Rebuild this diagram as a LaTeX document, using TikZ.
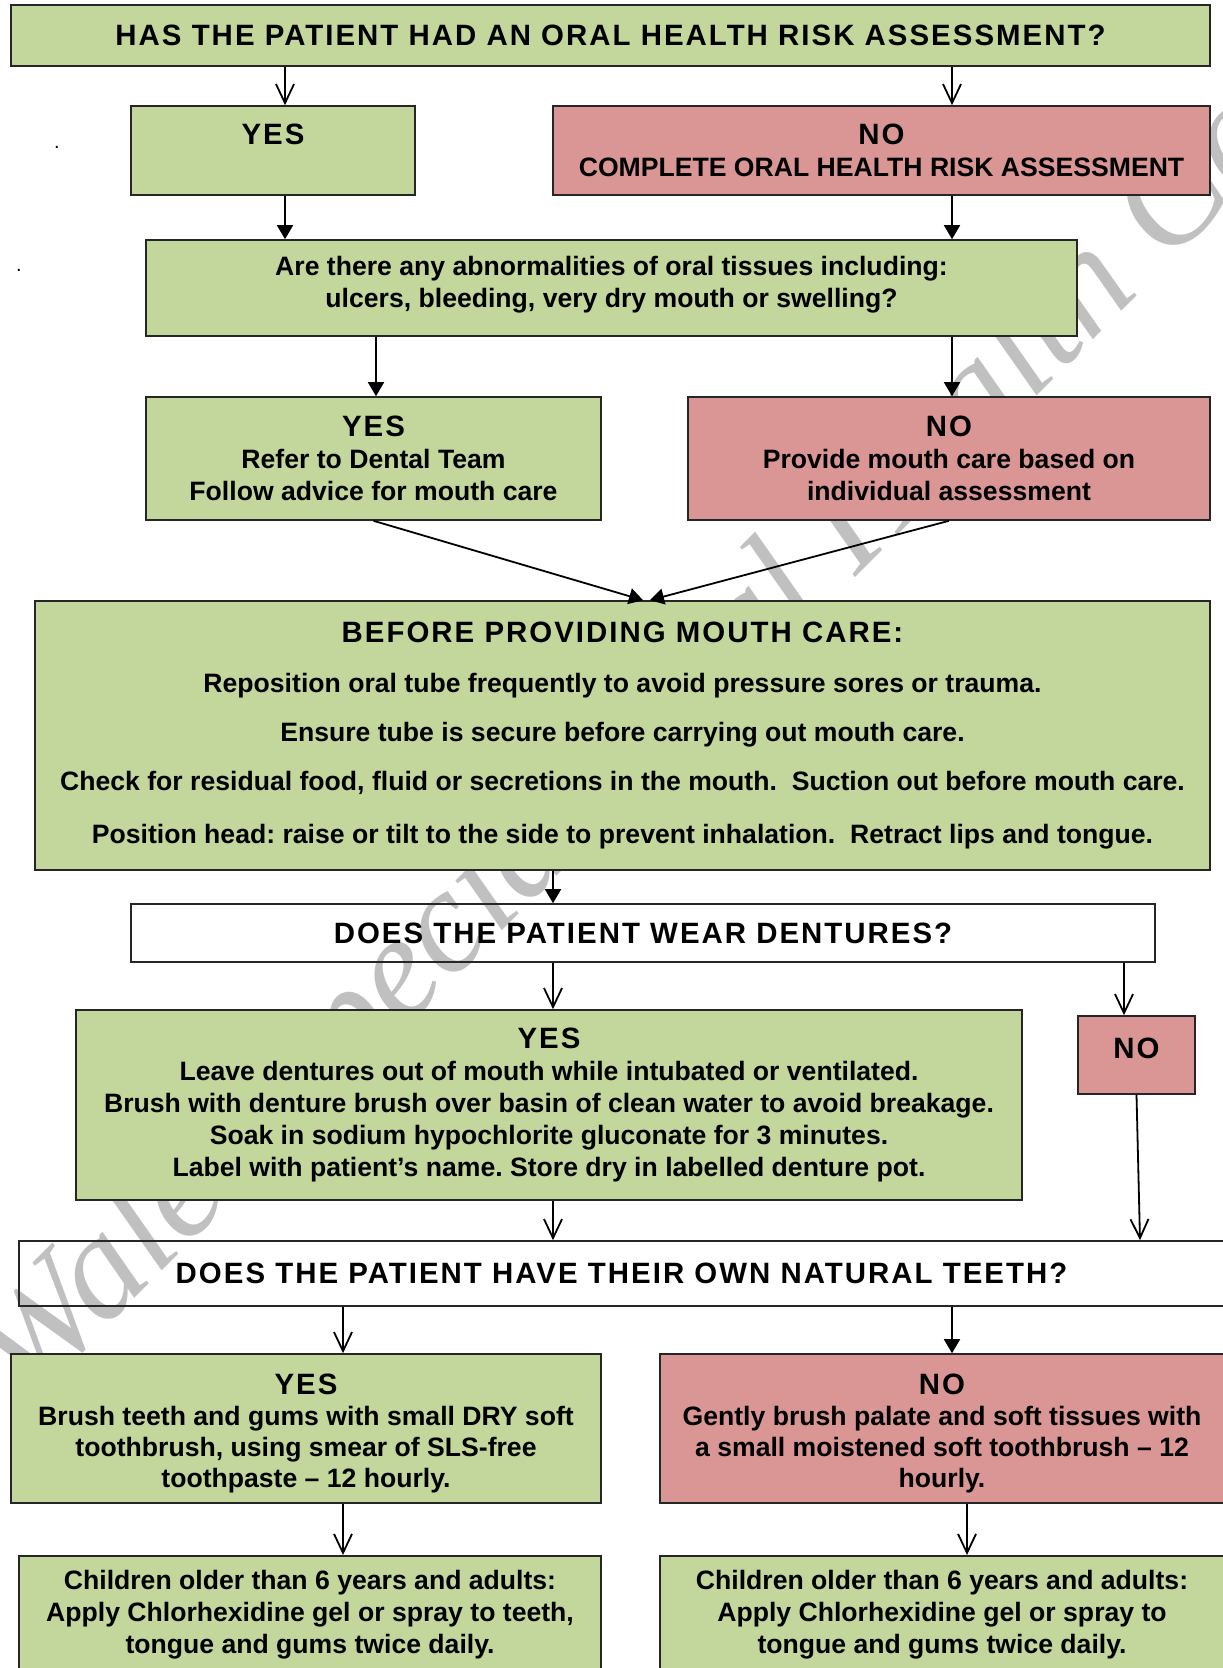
\documentclass[tikz,border=0pt]{standalone}
\usepackage{fontspec}
\setmainfont{Liberation Sans}
\newfontfamily\headfont{Liberation Sans}[LetterSpace=6.9]
\newfontfamily\wmfont{Liberation Serif}
\usetikzlibrary{positioning}
\usetikzlibrary{arrows.meta}
\definecolor{yesgreen}{RGB}{195,214,155}
\definecolor{nored}{RGB}{217,150,148}
\definecolor{wmgrey}{RGB}{192,192,192}
\tikzstyle{yesbox}   = [rectangle, draw=black!85, line width=0.8pt, fill=yesgreen, align=center, inner sep=0pt, font=\fontsize{13.3}{16}\selectfont\bfseries]
\tikzstyle{nobox}    = [rectangle, draw=black!85, line width=0.8pt, fill=nored, align=center, inner sep=0pt, font=\fontsize{13.3}{16}\selectfont\bfseries]
\tikzstyle{askbox}   = [rectangle, draw=black!85, line width=0.8pt, align=center, inner sep=0pt, font=\fontsize{13.3}{16}\selectfont\bfseries]
\tikzstyle{openhead} = [draw, line width=0.9pt, -{Straight Barb[length=9.5pt,width=9pt,line width=0.9pt]}]
\tikzstyle{fullhead} = [draw, line width=0.9pt, -{Triangle[length=7pt,width=8pt]}]
\tikzstyle{watermark} = [text=wmgrey, inner sep=0pt, font=\wmfont\itshape\fontsize{74}{74}\selectfont]
\tikzstyle{stray}    = [inner sep=0pt, font=\fontsize{10}{10}\selectfont]
\newcommand{\hd}[1]{{\headfont\fontsize{14.7}{16}\selectfont #1}}
\frenchspacing

\begin{document}
\begin{tikzpicture}[x=0.5pt,y=-0.5pt]
	\useasboundingbox (0,0) rectangle (1222,1668);

	% watermark
	\node [watermark, rotate=45, anchor=base west] (W) at (26,1407) {Wales Special Oral Health Care};
	\node [stray] (D1) at (57,147) {.};
	\node [stray] (D2) at (19,270) {.};

	% columns for the connectors
	\coordinate (xa) at (285,0);
	\coordinate (xb) at (952,0);
	\coordinate (xc) at (376,0);
	\coordinate (xd) at (553,0);
	\coordinate (xe) at (1124,0);
	\coordinate (xf) at (1140,0);
	\coordinate (xg) at (343,0);
	\coordinate (xh) at (967,0);
	\coordinate (ma) at (643,0);
	\coordinate (mb) at (650,0);

	% place nodes
	\node [yesbox, minimum width=599.5pt, minimum height=30.5pt] (Q1) at (610.5,35.5) {\hd{HAS THE PATIENT HAD AN ORAL HEALTH RISK ASSESSMENT?}};
	\node [yesbox, minimum width=142pt, minimum height=44.5pt]   (Y1) at (273,150.5)   {\hd{YES}\\ ~};
	\node [nobox, minimum width=328.5pt, minimum height=44.5pt]  (N1) at (881.5,150.5) {\hd{NO}\\ COMPLETE ORAL HEALTH RISK ASSESSMENT};
	\node [yesbox, minimum width=465.5pt, minimum height=48pt, text depth=6pt] (Q2) at (611.5,288) {Are there any abnormalities of oral tissues including:\\ ulcers, bleeding, very dry mouth or swelling?};
	\node [yesbox, minimum width=227.5pt, minimum height=61.5pt] (Y2) at (373.5,458.5) {\hd{YES}\\ Refer to Dental Team\\ Follow advice for mouth care};
	\node [nobox, minimum width=261pt, minimum height=61.5pt]    (N2) at (949,458.5)   {\hd{NO}\\ Provide mouth care based on\\ individual assessment};
	\node [yesbox, minimum width=587.5pt, minimum height=134.5pt] (B1) at (622.5,735.5) {\hd{BEFORE PROVIDING MOUTH CARE:}\\[9pt]
		Reposition oral tube frequently to avoid pressure sores or trauma.\\[8.5pt]
		Ensure tube is secure before carrying out mouth care.\\[8.5pt]
		Check for residual food, fluid or secretions in the mouth.\ \ Suction out before mouth care.\\[10.5pt]
		Position head: raise or tilt to the side to prevent inhalation.\ \ Retract lips and tongue.};
	\node [askbox, minimum width=512pt, minimum height=29pt]     (Q3) at (643,933)     {\hd{DOES THE PATIENT WEAR DENTURES?}};
	\node [yesbox, minimum width=473pt, minimum height=95pt]     (Y3) at (549,1105)    {\hd{YES}\\
		Leave dentures out of mouth while intubated or ventilated.\\
		Brush with denture brush over basin of clean water to avoid breakage.\\
		Soak in sodium hypochlorite gluconate for 3 minutes.\\
		Label with patient’s name. Store dry in labelled denture pot.};
	\node [nobox, minimum width=58.5pt, minimum height=39pt, text depth=6.4pt] (N3) at (1136.5,1055) {\hd{NO}};
	\node [askbox, minimum width=602.5pt, minimum height=32.5pt] (Q4) at (621.5,1273.5) {\hd{DOES THE PATIENT HAVE THEIR OWN NATURAL TEETH?}};
	\node [yesbox, minimum width=295pt, minimum height=74.5pt, font=\fontsize{13.3}{15.5}\selectfont\bfseries, text height=62pt] (Y4) at (306,1428.5) {\hd{YES}\\ Brush teeth and gums with small DRY soft\\ toothbrush, using smear of SLS-free\\ toothpaste – 12 hourly.};
	\node [nobox, minimum width=282pt, minimum height=74.5pt, font=\fontsize{13.3}{15.5}\selectfont\bfseries, text height=62pt]  (N4) at (942,1428.5) {\hd{NO}\\ Gently brush palate and soft tissues with\\ a small moistened soft toothbrush – 12\\ hourly.};
	\node [yesbox, anchor=north, minimum width=291pt, inner ysep=7pt, text depth=50pt] (C1) at (310,1555) {Children older than 6 years and adults:\\ Apply Chlorhexidine gel or spray to teeth,\\ tongue and gums twice daily.};
	\node [yesbox, anchor=north, minimum width=282pt, inner ysep=7pt, text depth=50pt] (C2) at (942,1555) {Children older than 6 years and adults:\\ Apply Chlorhexidine gel or spray to\\ tongue and gums twice daily.};

	% draw edges
	\path [openhead] (Q1.south -| xa) -- (Y1.north -| xa);
	\path [openhead] (Q1.south -| xb) -- (N1.north -| xb);
	\path [fullhead] (Y1.south -| xa) -- (Q2.north -| xa);
	\path [fullhead] (N1.south -| xb) -- (Q2.north -| xb);
	\path [fullhead] (Q2.south -| xc) -- (Y2.north -| xc);
	\path [fullhead] (Q2.south -| xb) -- (N2.north -| xb);
	\path [fullhead] (Y2.south) -- (B1.north -| ma);
	\path [fullhead] (N2.south) -- (B1.north -| mb);
	\path [fullhead] (B1.south -| xd) -- (Q3.north -| xd);
	\path [openhead] (Q3.south -| xd) -- (Y3.north -| xd);
	\path [openhead] (Q3.south -| xe) -- (N3.north -| xe);
	\path [openhead] (Y3.south -| xd) -- (Q4.north -| xd);
	\path [openhead] (N3.south) -- (Q4.north -| xf);
	\path [openhead] (Q4.south -| xg) -- (Y4.north -| xg);
	\path [fullhead] (Q4.south -| xb) -- (N4.north -| xb);
	\path [openhead] (Y4.south -| xg) -- (C1.north -| xg);
	\path [openhead] (N4.south -| xh) -- (C2.north -| xh);
\end{tikzpicture}
\end{document}
